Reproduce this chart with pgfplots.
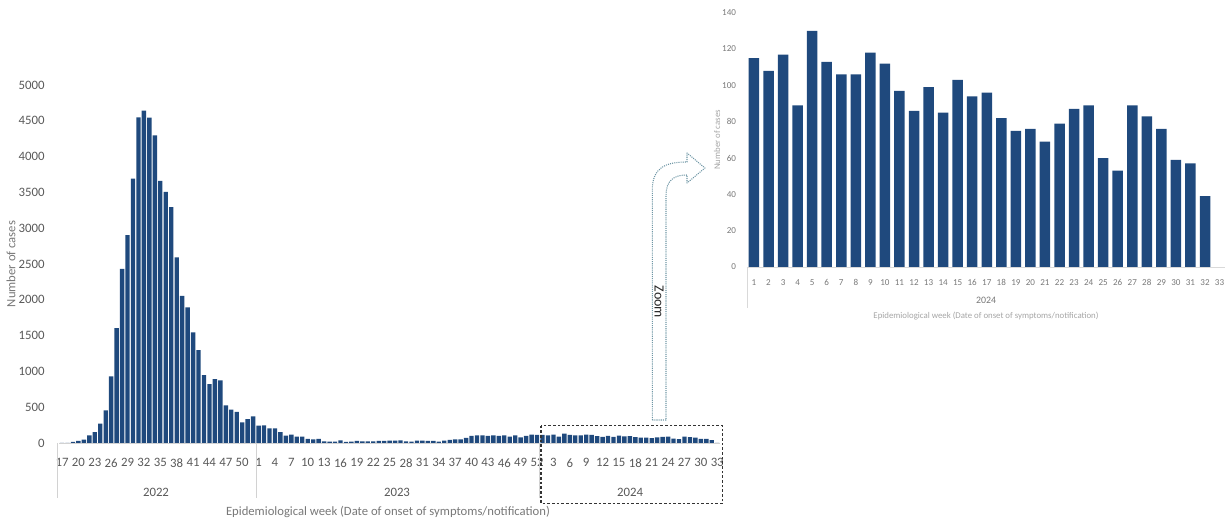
\documentclass[border=0pt]{standalone}
\usepackage{pgfplots}
\pgfplotsset{compat=1.18}
\usepackage{pgfplotstable}
\usepackage{fontspec}
\setmainfont{Carlito}
\definecolor{barblue}{RGB}{31,73,125}
\definecolor{txtgray}{RGB}{89,89,89}
\definecolor{midgray}{RGB}{120,120,120}
\definecolor{ltgray}{RGB}{165,165,165}
\definecolor{arrowc}{RGB}{110,150,165}

\pgfplotstableread{
idx cases
0 0
1 0
2 14
3 28
4 47
5 107
6 153
7 270
8 456
9 930
10 1605
11 2433
12 2902
13 3693
14 4549
15 4642
16 4544
17 4298
18 3660
19 3507
20 3293
21 2591
22 2056
23 1893
24 1544
25 1298
26 949
27 823
28 893
29 874
30 526
31 465
32 433
33 288
34 335
35 372
36 242
37 246
38 205
39 205
40 153
41 102
42 116
43 88
44 88
45 56
46 51
47 56
48 23
49 19
50 19
51 37
52 14
53 19
54 28
55 23
56 23
57 23
58 28
59 28
60 33
61 33
62 37
63 23
64 19
65 33
66 33
67 28
68 28
69 19
70 33
71 42
72 51
73 51
74 70
75 98
76 107
77 107
78 98
79 107
80 98
81 107
82 88
83 107
84 79
85 98
86 116
87 112
88 115
89 108
90 117
91 89
92 130
93 113
94 106
95 106
96 118
97 112
98 97
99 86
100 99
101 85
102 103
103 94
104 96
105 82
106 75
107 76
108 69
109 79
110 87
111 89
112 60
113 53
114 89
115 83
116 76
117 59
118 57
119 39
120 0
}\maintable

\pgfplotstableread{
wk cases
1 115
2 108
3 117
4 89
5 130
6 113
7 106
8 106
9 118
10 112
11 97
12 86
13 99
14 85
15 103
16 94
17 96
18 82
19 75
20 76
21 69
22 79
23 87
24 89
25 60
26 53
27 89
28 83
29 76
30 59
31 57
32 39
}\zoomtable

\begin{document}
\begin{tikzpicture}[x=0.75pt,y=0.75pt]
\path[use as bounding box] (0,0) rectangle (1225,521);

% ---------- main chart ----------
\begin{axis}[
  at={(44.475pt,58.5pt)}, anchor=south west,
  scale only axis, width=495.5pt, height=268.5pt,
  xmin=-0.5, xmax=120.5, ymin=0, ymax=5000,
  axis x line=bottom, axis y line=left,
  axis line style={-}, x axis line style={draw=gray!35},
  y axis line style={draw=none},
  major tick length=0pt,
  ytick={0,500,1000,1500,2000,2500,3000,3500,4000,4500,5000},
  xtick={0,3,...,120},
  xticklabels={17,20,23,26,29,32,35,38,41,44,47,50,
    1,4,7,10,13,16,19,22,25,28,31,34,37,40,43,46,49,52,
    3,6,9,12,15,18,21,24,27,30,33},
  /pgf/number format/assume math mode=true,
  /pgf/number format/1000 sep={},
  ticklabel style={font=\fontsize{9.6}{11}\selectfont, text=txtgray},
  xticklabel style={yshift=-8pt},
  yticklabel style={xshift=-7.5pt},
  clip=false,
]
\addplot[ybar, bar width=0.8, fill=barblue, draw=none]
  table[x=idx, y=cases] {\maintable};
\end{axis}

% ---------- zoom chart ----------
\begin{axis}[
  at={(560.025pt,190.5pt)}, anchor=south west,
  scale only axis, width=360.1pt, height=190.7pt,
  xmin=0.5, xmax=33.5, ymin=0, ymax=140,
  axis x line=bottom, axis y line=left,
  axis line style={-}, x axis line style={draw=gray!30},
  y axis line style={draw=none},
  major tick length=0pt,
  ytick={0,20,...,140},
  xtick={1,...,33},
  /pgf/number format/assume math mode=true,
  ticklabel style={font=\fontsize{6.8}{8}\selectfont, text=midgray},
  xticklabel style={yshift=-6pt},
  yticklabel style={xshift=-4.5pt},
  clip=false,
]
\addplot[ybar, bar width=0.72, fill=barblue, draw=none]
  table[x=wk, y=cases] {\zoomtable};
\end{axis}

% ---------- decorations (pixel coords, y down) ----------
\begin{scope}[shift={(0,521)}, yscale=-1]
  % group separators main
  \draw[gray!35, line width=0.6pt] (57.5,443) -- (57.5,498);
  \draw[gray!35, line width=0.6pt] (255.9,443) -- (255.9,498);
  \draw[gray!35, line width=0.6pt] (539.8,443) -- (539.8,498);
  % group separator zoom
  \draw[gray!30, line width=0.6pt] (747,267) -- (747,308);

  % year labels main
  \node[font=\fontsize{9.6}{11}\selectfont, text=txtgray] at (156,492) {2022};
  \node[font=\fontsize{9.6}{11}\selectfont, text=txtgray] at (397,492) {2023};
  \node[font=\fontsize{9.6}{11}\selectfont, text=txtgray] at (630,492) {2024};
  \node[font=\fontsize{9.5}{11}\selectfont, text=midgray] at (388,512) {Epidemiological week (Date of onset of symptoms/notification)};
  \node[font=\fontsize{9.5}{11}\selectfont, text=midgray, rotate=90] at (11,264) {Number of cases};

  % zoom panel labels
  \node[font=\fontsize{7.4}{8}\selectfont, text=midgray] at (986,300) {2024};
  \node[font=\fontsize{6.6}{8}\selectfont, text=ltgray] at (986,316) {Epidemiological week (Date of onset of symptoms/notification)};
  \node[font=\fontsize{6.6}{8}\selectfont, text=ltgray, rotate=90] at (717,140) {Number of cases};

  % dashed box
  \draw[gray!40!black, line width=0.8pt, dash pattern=on 2pt off 1.5pt] (541,425.7) rectangle (722.7,503.3);

  % arrow
  \draw[arrowc, line width=0.8pt, dash pattern=on 0.8pt off 0.8pt, line join=round]
    (652.3,420) -- (652.3,190) .. controls (652.3,168) and (665,162) .. (687,162)
    -- (687,153) -- (705,168) -- (687,183) -- (687,175)
    .. controls (674,175) and (666,180) .. (666,196) -- (666,420) -- cycle;
  \node[font=\fontsize{10.5}{12}\selectfont, text=black!85, rotate=-90] at (659,302) {Zoom};
\end{scope}
\end{tikzpicture}
\end{document}
